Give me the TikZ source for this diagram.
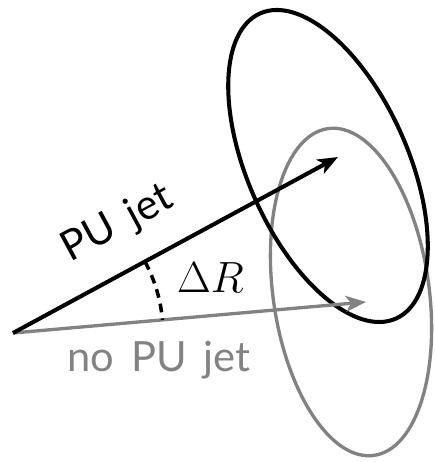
\documentclass[tikz,border=0pt]{standalone}
\usepackage{fontspec}
\setsansfont{Lato}[WordSpace=1.6]
\usetikzlibrary{arrows.meta}
\definecolor{jetgray}{RGB}{130,130,130}

\begin{document}
\begin{tikzpicture}[x=0.02cm, y=0.02cm, font=\sffamily\fontsize{23.7}{28}\selectfont]
\useasboundingbox (0,0) rectangle (434,462);
% ---- jet axes ----
\coordinate (apex) at (13,129);
\coordinate (pu) at (338,305);
\coordinate (nopu) at (366,160);

% ---- jet cones ----
\draw[line width=1.9pt, jetgray, rotate around={-82:(351,170)}] (351,170) ellipse (165 and 78);
\draw[line width=2.3pt, black, rotate around={-66:(328,296)}] (328,296) ellipse (167 and 80);

% ---- no PU jet (grey) ----
\draw[line width=1.9pt, jetgray, -{Stealth[length=11.5pt, width=9pt, inset=3pt]}] (apex) -- (nopu);
\node[jetgray, anchor=base] (nopulabel) at (159,90) {no PU jet};

% ---- PU jet (black) ----
\draw[line width=2.3pt, -{Stealth[length=11.5pt, width=9pt, inset=3pt]}] (apex) -- (pu)
   node[pos=0.39, sloped, above=14pt, inner sep=0pt] (pulabel) {PU jet};

% ---- angle between the two ----
\draw[line width=2pt, dash pattern=on 5pt off 3.5pt] ([shift={(28.4:150)}]apex) arc[start angle=28.4, end angle=5, radius=150];
\node[anchor=base, font=\fontsize{27}{31}\selectfont] (drlabel) at (210.5,169) {$\Delta R$};
\end{tikzpicture}
\end{document}
